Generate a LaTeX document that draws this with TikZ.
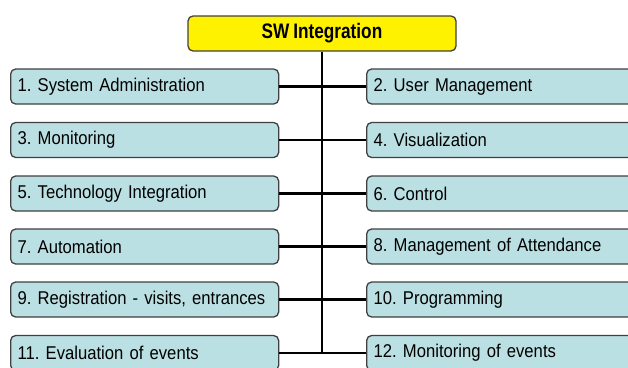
\documentclass[tikz,border=0pt]{standalone}
\usepackage{fontspec}
\setmainfont{Liberation Sans}[FakeStretch=0.9, WordSpace=0.8]
\newfontfamily\titlefont{Liberation Sans}[FakeStretch=0.82, WordSpace=0.8]
\frenchspacing
\begin{document}
\begin{tikzpicture}[x=1pt,y=-1pt,
  item/.style={draw=black!75, line width=1.3pt, fill=boxcyan, rounded corners=5pt,
    minimum height=35pt, inner xsep=7pt, inner ysep=0pt, align=left,
    font=\fontsize{18.5}{20}\selectfont, anchor=west},
  leftitem/.style={item, text width=254pt},
  rightitem/.style={item, text width=290pt},
  head/.style={draw=black!75, line width=1.3pt, fill=yellow, rounded corners=5pt,
    minimum width=268pt, minimum height=35pt, font=\titlefont\bfseries\fontsize{21}{23}\selectfont},
  conn/.style={line width=2.4pt, black}]
\definecolor{boxcyan}{RGB}{187,224,227}
\useasboundingbox (0,0) rectangle (628,367);
\clip (0,0) rectangle (628,367);
\node[head] (top) at (322,33.5) {SW Integration};
\foreach \i/\y/\lt/\rt in {1/86.5/{1. System Administration}/{2. User Management},
  2/140/{3. Monitoring}/{4. Visualization},
  3/193.5/{5. Technology Integration}/{6. Control},
  4/246.5/{7. Automation}/{8. Management of Attendance},
  5/299.5/{9. Registration - visits, entrances}/{10. Programming},
  6/353/{11. Evaluation of events}/{12. Monitoring of events}}{
  \node[leftitem] (L\i) at (10,\y) {\lt};
  \node[rightitem] (R\i) at (366,\y) {\rt};
  \coordinate (J\i) at (322,\y);
}
\draw[conn] (top.south) -- (J6);
\foreach \i in {1,...,6}{
  \draw[conn] (L\i.east) -- (R\i.west);
}
\end{tikzpicture}
\end{document}
